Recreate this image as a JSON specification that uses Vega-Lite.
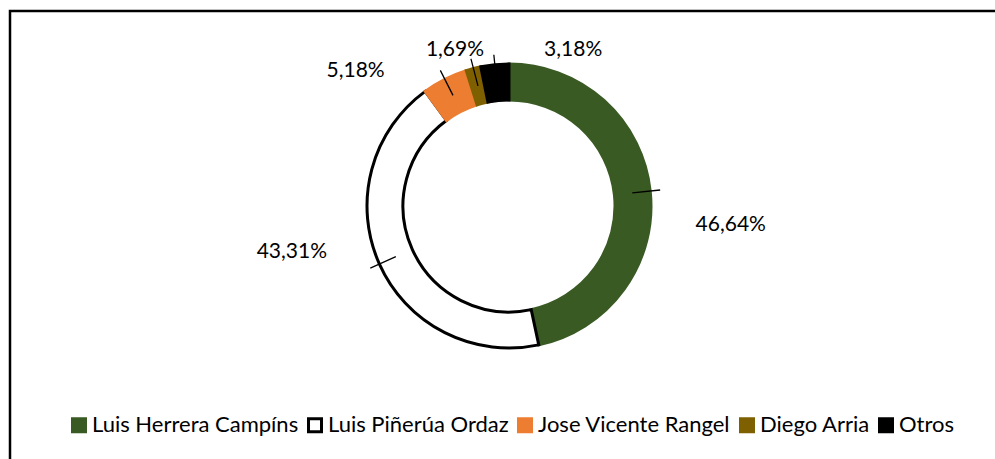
{
  "$schema": "https://vega.github.io/schema/vega-lite/v6.json",
  "width": 998,
  "height": 470,
  "padding": {"left": 10, "top": 11, "right": 0, "bottom": 0},
  "autosize": {"type": "none"},
  "background": "white",
  "view": {"stroke": "#000000", "strokeWidth": 2.5},
  "config": {
    "view": {"stroke": "#000000", "strokeWidth": 2.5},
    "font": "Lato",
    "legend": {
      "orient": "none",
      "legendX": 58,
      "legendY": 403,
      "direction": "horizontal",
      "columns": 5,
      "labelFont": "Lato",
      "labelFontSize": 22,
      "labelColor": "#000000",
      "labelLimit": 0,
      "symbolType": "square",
      "symbolSize": 169,
      "symbolStrokeWidth": 3,
      "symbolOpacity": 1,
      "labelOffset": 2,
      "columnPadding": 3,
      "padding": 0
    }
  },
  "data": {
    "values": [
      {"cat": "Luis Herrera Campíns", "value": 46.64, "label": "46,64%", "i": 1},
      {"cat": "Luis Piñerúa Ordaz", "value": 43.31, "label": "43,31%", "i": 2},
      {"cat": "Jose Vicente Rangel", "value": 5.18, "label": "5,18%", "i": 3},
      {"cat": "Diego Arria", "value": 1.69, "label": "1,69%", "i": 4},
      {"cat": "Otros", "value": 3.18, "label": "3,18%", "i": 5}
    ]
  },
  "encoding": {
    "theta": {"field": "value", "type": "quantitative", "stack": true},
    "order": {"field": "i", "type": "quantitative"},
    "detail": {"field": "cat", "type": "nominal"}
  },
  "layer": [
    {
      "mark": {"type": "arc", "radius": 142, "radius2": 106, "strokeWidth": 3, "yOffset": -40},
      "encoding": {
        "color": {
          "field": "cat",
          "type": "nominal",
          "title": null,
          "scale": {
            "domain": ["Luis Herrera Campíns", "Luis Piñerúa Ordaz", "Jose Vicente Rangel", "Diego Arria", "Otros"],
            "range": ["#3A5A24", "#FFFFFF", "#ED7D31", "#7F6000", "#000000"]
          }
        },
        "stroke": {
          "field": "cat",
          "type": "nominal",
          "title": null,
          "scale": {
            "domain": ["Luis Herrera Campíns", "Luis Piñerúa Ordaz", "Jose Vicente Rangel", "Diego Arria", "Otros"],
            "range": ["#3A5A24", "#000000", "#ED7D31", "#7F6000", "#000000"]
          }
        }
      }
    },
    {
      "mark": {"type": "arc", "radius": 152, "radius2": 124, "padAngle": 3, "filled": false, "stroke": "#000000", "strokeWidth": 1.3, "yOffset": -40}
    },
    {
      "mark": {"type": "text", "radius": 222, "dx": 1, "dy": 42, "yOffset": -40, "fontSize": 21, "font": "Lato", "color": "#000000"},
      "encoding": {"text": {"condition": {"test": "datum.cat === 'Luis Herrera Campíns'", "field": "label"}, "value": ""}}
    },
    {
      "mark": {"type": "text", "radius": 238, "dx": 0, "dy": -51, "yOffset": -40, "fontSize": 21, "font": "Lato", "color": "#000000"},
      "encoding": {"text": {"condition": {"test": "datum.cat === 'Luis Piñerúa Ordaz'", "field": "label"}, "value": ""}}
    },
    {
      "mark": {"type": "text", "radius": 189, "dx": -68, "dy": 34, "yOffset": -40, "fontSize": 21, "font": "Lato", "color": "#000000"},
      "encoding": {"text": {"condition": {"test": "datum.cat === 'Jose Vicente Rangel'", "field": "label"}, "value": ""}}
    },
    {
      "mark": {"type": "text", "radius": 164, "dx": -13, "dy": 3, "yOffset": -40, "fontSize": 21, "font": "Lato", "color": "#000000"},
      "encoding": {"text": {"condition": {"test": "datum.cat === 'Diego Arria'", "field": "label"}, "value": ""}}
    },
    {
      "mark": {"type": "text", "radius": 149, "dx": 79, "dy": -8, "yOffset": -40, "fontSize": 21, "font": "Lato", "color": "#000000"},
      "encoding": {"text": {"condition": {"test": "datum.cat === 'Otros'", "field": "label"}, "value": ""}}
    }
  ]
}
